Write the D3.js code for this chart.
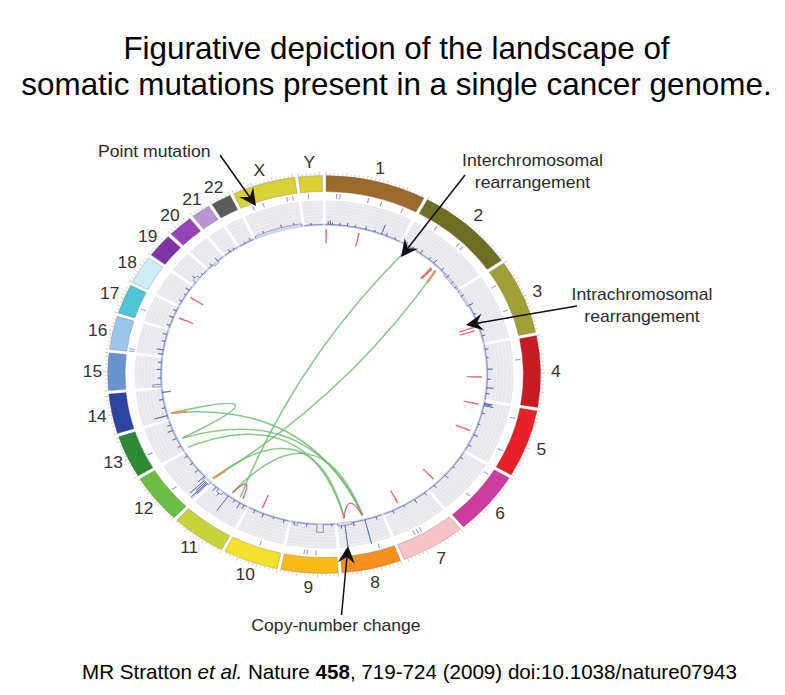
<!DOCTYPE html>
<html><head><meta charset="utf-8">
<script src="https://cdn.jsdelivr.net/npm/d3@7/dist/d3.min.js"></script>
<style>body{margin:0;background:#fff}svg{display:block}</style>
</head><body>
<svg id="chart" width="785" height="695"></svg>
<script>
// ---------------- DATA ----------------
const chromosomes = ["1","2","3","4","5","6","7","8","9","10","11","12","13","14","15","16","17","18","19","20","21","22","X","Y"];
const chromLengths = [247,243,199,191,181,171,159,146,140,135,134,132,114,106,100,89,79,76,64,62,47,50,155,58]; // Mb
const chromColors = ["#9c6a2c","#6e6e22","#a0a036","#c81a24","#e8202a","#cc3c9c","#f6c4c8","#f4901e","#f7bc1a","#f2e22c","#c6d43a","#6cbf44","#2c8a36","#2a44a0","#6a92d0","#9cc6ec","#4ec4d4","#cdeef6","#7e34a4","#9444b4","#b898d4","#5c5c5c","#d8d236","#dcd034"];

// point mutations [chromosome, position Mb]
const pointMutations = [["1",29],["1",38],["1",115],["1",151],["1",211],["2",60],["2",137],["2",151],["3",43],["3",120],["4",60],["5",32],["5",132],["6",20],["6",100],["7",85],["7",95],["7",105],["8",40],["9",56],["9",80],["9",88],["10",60],["12",60],["13",39],["16",2],["16",8],["17",30],["X",31],["X",60],["X",126],["X",142],["Y",20]];

// intrachromosomal rearrangements [chromosome, pos1, pos2]
const intraLinks = [["1",2,2.6],["1",112,112.6],["2",130,130.6],["2",134,134.6],["3",138,138.6],["3",151,151.6],["4",112,112.6],["5",11,11.6],["5",111,111.6],["6",135,135.6],["7",103,103.6],["10",96,96.6],["17",45,45.6],["18",40,40.6],["8",62,124],["11",25,66]];

// interchromosomal rearrangements [chrA, posA, chrB, posB]
const interLinks = [["2",25,"11",35],["2",148,"12",5],["14",17,"8",60],["13",43,"8",60],["13",5,"8",122],["12",5,"8",122],["11",66,"8",60],["14",17,"13",43]];
const linkEndHighlights = [["14",17],["12",5],["2",148]];

// copy number: segments [chr, start, end, level] and focal spikes [chr, pos, level]
const cnSegments = [["2",180,243,-2],["3",0,60,-2],["8",100,146,2],["9",37,57,8],["9",120,130,3],["11",90,110,3],["12",0,25,3],["15",0,8,8],["19",10,30,3],["20",20,40,-2],["X",0,155,2]];
const cnSpikes = [
 ["1",8,3],["1",15,4],["1",22,2],["1",45,2],["1",70,3],["1",95,2],["1",130,3],["1",160,2],["1",184,10],["1",200,3],["1",230,2],
 ["2",15,3],["2",40,2],["2",70,4],["2",105,3],["2",125,5],["2",160,3],["2",190,4],["2",215,3],["2",235,2],
 ["3",20,3],["3",60,4],["3",95,2],["3",130,5],["3",175,3],
 ["4",15,3],["4",45,2],["4",85,5],["4",120,3],["4",150,6],["4",170,3],
 ["5",5,8],["5",9,6],["5",13,9],["5",40,3],["5",80,2],["5",120,4],["5",160,3],
 ["6",20,3],["6",60,2],["6",100,4],["6",150,3],
 ["7",10,3],["7",50,4],["7",90,2],["7",130,3],
 ["8",20,3],["8",57,25],["8",95,4],["8",123,22],["8",135,3],
 ["9",10,2],["9",90,3],["9",130,2],
 ["10",15,3],["10",50,2],["10",85,4],["10",115,3],
 ["11",10,4],["11",25,6],["11",45,3],["11",70,18],["11",100,3],["11",120,5],
 ["12",5,14],["12",9,20],["12",14,12],["12",20,18],["12",30,8],["12",60,4],["12",90,3],["12",120,3],
 ["13",20,3],["13",50,4],["13",80,5],["13",100,3],
 ["14",12,12],["14",40,3],["14",70,4],["14",95,-8],
 ["15",30,3],["15",60,4],["15",85,3],
 ["16",5,4],["16",20,6],["16",50,3],["16",75,4],
 ["17",10,3],["17",40,4],["17",65,3],
 ["18",15,3],["18",40,2],["18",60,4],
 ["19",20,3],["19",45,2],["20",15,3],["20",40,4],["21",20,3],["21",35,2],["22",20,2],["22",40,3],
 ["X",30,2],["X",90,3],["X",130,2],["Y",20,2]];

const titleLines = ["Figurative depiction of the landscape of","somatic mutations present in a single cancer genome."];

// ---------------- LAYOUT ----------------
const cx = 324.2, cy = 374.5, sx = 1.088;
const GAP = 1, START = 0.5;
const R = {ideoOut:199, ideoIn:183, tickOut:181, tickIn:176, bandOut:174, bandIn:148.5, cnBase:150, link:145, label:213};
const total = d3.sum(chromLengths);
const degPerMb = (360 - GAP*chromosomes.length)/total;
const rad = d => d*Math.PI/180;
let acc = START;
const chromInfo = chromosomes.map((c,i)=>{
  const s = acc, e = acc + chromLengths[i]*degPerMb;
  acc = e + GAP;
  return {name:c, len:chromLengths[i], color:chromColors[i], start:rad(s), end:rad(e),
    scale:d3.scaleLinear().domain([0,chromLengths[i]]).range([rad(s),rad(e)])};
});
const byName = new Map(chromInfo.map(d=>[d.name,d]));
const ang = (c,p)=>byName.get(c).scale(p);
const pt = (a,r)=>[r*Math.sin(a), -r*Math.cos(a)];
const cnR = d3.scaleLinear().domain([0,25]).range([R.cnBase, R.cnBase+25]);

const svg = d3.select("#chart");
const font = "'Liberation Sans', Arial, Helvetica, sans-serif";

// title
svg.selectAll("text.title").data(titleLines).join("text").attr("class","title")
  .attr("x",396.5).attr("y",(d,i)=>59+i*36).attr("text-anchor","middle")
  .attr("font-family",font).attr("font-size",31.4).attr("fill","#000").text(d=>d);

const g = svg.append("g").attr("transform",`translate(${cx},${cy}) scale(${sx},1)`);

// ideogram
const arc = d3.arc();
g.selectAll("path.ideo").data(chromInfo).join("path").attr("class","ideo")
  .attr("d",d=>arc({innerRadius:R.ideoIn,outerRadius:R.ideoOut,startAngle:d.start,endAngle:d.end}))
  .attr("fill",d=>d.color).attr("stroke","#6b6b6b").attr("stroke-opacity",0.45).attr("stroke-width",0.7);

// scale ticks
const ticks = [];
chromInfo.forEach(c=>{ for(let p=0;p<=c.len;p+=10) ticks.push({a:c.scale(p), major:p%50===0}); });
g.selectAll("line.tk").data(ticks).join("line").attr("class","tk")
  .attr("x1",d=>pt(d.a,R.ideoOut+0.5)[0]).attr("y1",d=>pt(d.a,R.ideoOut+0.5)[1])
  .attr("x2",d=>pt(d.a,R.ideoOut+(d.major?4:2.5))[0]).attr("y2",d=>pt(d.a,R.ideoOut+(d.major?4:2.5))[1])
  .attr("stroke","#c2ad88").attr("stroke-width",0.6);

// labels
g.selectAll("text.lab").data(chromInfo).join("text").attr("class","lab")
  .attr("x",d=>pt((d.start+d.end)/2,R.label)[0]).attr("y",d=>pt((d.start+d.end)/2,R.label)[1])
  .attr("dy","0.36em").attr("text-anchor","middle").attr("font-family",font).attr("font-size",16)
  .attr("fill","#333").text(d=>d.name);

// grey copy-number band
g.selectAll("path.band").data(chromInfo).join("path").attr("class","band")
  .attr("d",d=>arc({innerRadius:R.bandIn,outerRadius:R.bandOut,startAngle:d.start,endAngle:d.end}))
  .attr("fill","#e8e8ec");
const grid = d3.range(R.bandIn+3.3, R.bandOut, 3.3);
chromInfo.forEach(c=>{
  g.selectAll(null).data(grid).join("path")
    .attr("d",r=>arc({innerRadius:r,outerRadius:r+0.6,startAngle:c.start,endAngle:c.end}))
    .attr("fill","#f4f4f7");
});
g.append("circle").attr("r",R.cnBase).attr("fill","none").attr("stroke","#d0d3e8").attr("stroke-width",2);

// copy number line
function cnPoints(c){
  const segs = cnSegments.filter(d=>d[0]===c.name);
  const spikes = cnSpikes.filter(d=>d[0]===c.name);
  const lvR = p => d3.sum(segs, s => (p>=s[1] && p<s[2]) ? s[3] : 0);
  const lvL = p => d3.sum(segs, s => (p>s[1] && p<=s[2]) ? s[3] : 0);
  const marks = new Set(d3.range(0,c.len,1)); marks.add(c.len);
  segs.forEach(s=>{marks.add(s[1]);marks.add(s[2]);});
  spikes.forEach(s=>marks.add(s[1]));
  const pts = [];
  Array.from(marks).sort((a,b)=>a-b).forEach(p=>{
    const a = lvL(p), b = lvR(p);
    pts.push([p,a]); if(a!==b) pts.push([p,b]);
    spikes.filter(s=>s[1]===p).forEach(s=>{pts.push([p,b+s[2]]);pts.push([p,b]);});
  });
  return pts;
}
const cnLine = d3.lineRadial();
chromInfo.forEach(c=>{
  g.append("path").datum(cnPoints(c))
    .attr("d",cnLine.angle(d=>c.scale(d[0])).radius(d=>cnR(d[1])))
    .attr("fill","none").attr("stroke","#4858a8").attr("stroke-width",0.8).attr("stroke-opacity",0.75);
});

// point mutations
g.selectAll("line.pm").data(pointMutations).join("line").attr("class","pm")
  .attr("x1",d=>pt(ang(d[0],d[1]),R.tickIn)[0]).attr("y1",d=>pt(ang(d[0],d[1]),R.tickIn)[1])
  .attr("x2",d=>pt(ang(d[0],d[1]),R.tickOut)[0]).attr("y2",d=>pt(ang(d[0],d[1]),R.tickOut)[1])
  .attr("stroke","#8f9cc4").attr("stroke-width",1);

// links
function linkPath(a1,a2,rc){
  let mid = (a1+a2)/2;
  if (Math.abs(a1-a2) > Math.PI) mid += Math.PI;
  const p0 = pt(a1,R.link), p2 = pt(a2,R.link), c = pt(mid,rc);
  return `M${p0[0]},${p0[1]}Q${c[0]},${c[1]} ${p2[0]},${p2[1]}`;
}
g.selectAll("path.inter").data(interLinks).join("path").attr("class","inter")
  .attr("d",d=>linkPath(ang(d[0],d[1]),ang(d[2],d[3]),30))
  .attr("fill","none").attr("stroke","#72b872").attr("stroke-width",1.5).attr("stroke-opacity",0.8);
// orange link ends
linkEndHighlights.forEach(h=>{
  const l = interLinks.find(d=>(d[0]===h[0]&&d[1]===h[1])||(d[2]===h[0]&&d[3]===h[1]));
  const a1 = ang(h[0],h[1]);
  const a2 = l[0]===h[0]&&l[1]===h[1] ? ang(l[2],l[3]) : ang(l[0],l[1]);
  let mid=(a1+a2)/2; if(Math.abs(a1-a2)>Math.PI) mid+=Math.PI;
  const p0=pt(a1,R.link), c=pt(mid,30);
  const dx=c[0]-p0[0], dy=c[1]-p0[1], n=Math.hypot(dx,dy);
  g.append("line").attr("x1",p0[0]).attr("y1",p0[1]).attr("x2",p0[0]+dx/n*12).attr("y2",p0[1]+dy/n*12)
    .attr("stroke","#d99a6a").attr("stroke-width",2.4).attr("stroke-linecap","round");
});
g.selectAll("path.intra").data(intraLinks).join("path").attr("class","intra")
  .attr("d",d=>linkPath(ang(d[0],d[1]),ang(d[0],d[2]),117))
  .attr("fill","none").attr("stroke","#e0505a").attr("stroke-width",1.3).attr("stroke-opacity",0.85);

// ---------------- ANNOTATIONS ----------------
const ann = svg.append("g");
function label(x,y,anchor,txt){
  ann.append("text").attr("transform",`translate(${x},${y}) scale(${sx},1)`).attr("text-anchor",anchor)
    .attr("font-family",font).attr("font-size",16.2).attr("fill","#2a2a2a").text(txt);
}
function arrow(x1,y1,x2,y2){
  const a = Math.atan2(y2-y1,x2-x1), L=17, W=8.5, N=11;
  ann.append("line").attr("x1",x1).attr("y1",y1).attr("x2",x2-Math.cos(a)*N).attr("y2",y2-Math.sin(a)*N)
    .attr("stroke","#111").attr("stroke-width",1.5);
  ann.append("path").attr("d",`M0,0L${-L},${W}L${-N},0L${-L},${-W}Z`)
    .attr("transform",`translate(${x2},${y2}) rotate(${a*180/Math.PI})`).attr("fill","#111");
}
label(98,157,"start","Point mutation");
arrow(220,155,256,206);
label(532.5,166,"middle","Interchromosomal");
label(532.5,188,"middle","rearrangement");
arrow(465,175,401,257);
label(642,300,"middle","Intrachromosomal");
label(642,322,"middle","rearrangement");
arrow(577,306,466,325);
label(336,631,"middle","Copy-number change");
arrow(341.5,615,348,546);

// citation
const cit = svg.append("text").attr("x",82).attr("y",679).attr("font-family",font).attr("font-size",20.6).attr("fill","#000");
cit.append("tspan").text("MR Stratton ");
cit.append("tspan").attr("font-style","italic").text("et al.");
cit.append("tspan").text(" Nature ");
cit.append("tspan").attr("font-weight","bold").text("458");
cit.append("tspan").text(", 719-724 (2009) doi:10.1038/nature07943");
</script>
</body></html>
